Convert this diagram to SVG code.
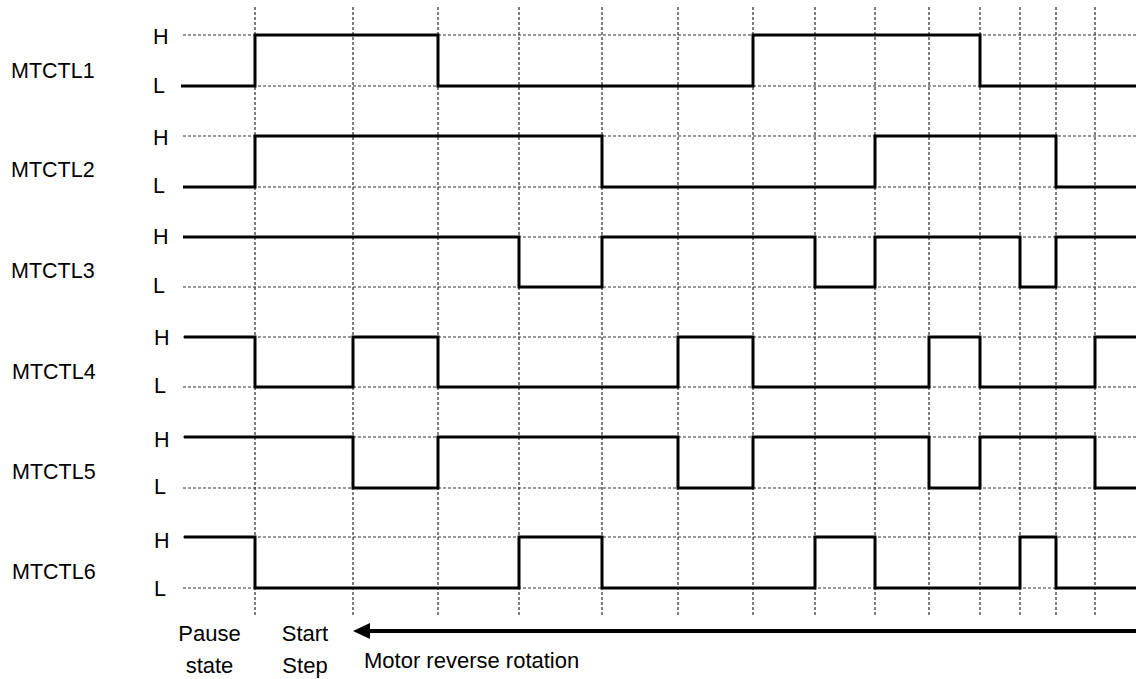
<svg xmlns="http://www.w3.org/2000/svg" width="1136" height="679" viewBox="0 0 1136 679">
<style>
.bg{fill:#fff}
.g{stroke:#000;stroke-width:1;stroke-dasharray:3 2;fill:none}
.gh{stroke:#333;stroke-width:1;stroke-dasharray:3 2;fill:none}
.sig{stroke:#000;stroke-width:3;fill:none;stroke-linejoin:miter;stroke-linecap:butt}
.lbl{font-family:"Liberation Sans",Arial,sans-serif;font-size:21.5px;fill:#000}
.bt{font-family:"Liberation Sans",Arial,sans-serif;font-size:22px;fill:#000}
.arr{stroke:#000;stroke-width:4;fill:none}
</style>
<defs>
<marker id="ah" markerUnits="userSpaceOnUse" markerWidth="17" markerHeight="16" refX="17" refY="8" orient="auto">
<path d="M17,0 L0,8 L17,16 Z" fill="#000"/>
</marker>
</defs>
<rect class="bg" x="0" y="0" width="1136" height="679"/>
<g id="grid">
<path class="g" d="M255,7V615M353,7V615M438,7V615M519,7V615M602,7V615M678,7V615M753,7V615M815,7V615M875,7V615M929,7V615M980,7V615M1020,7V615M1056,7V615M1095,7V615"/>
<path class="gh" d="M183,35H1136M183,86H1136M183,136H1136M183,187H1136M183,237H1136M183,287H1136M183,337H1136M183,387H1136M183,437H1136M183,488H1136M183,537H1136M183,588H1136"/>
</g>
<g id="MTCTL1">
<text class="lbl" x="11" y="78">MTCTL1</text>
<text class="lbl" x="153" y="44">H</text>
<text class="lbl" x="153" y="93">L</text>
<path class="sig" d="M181,86H255V35H438V86H753V35H980V86H1136"/>
</g>
<g id="MTCTL2">
<text class="lbl" x="11" y="177">MTCTL2</text>
<text class="lbl" x="153" y="145">H</text>
<text class="lbl" x="153" y="193">L</text>
<path class="sig" d="M183,187H255V136H602V187H875V136H1056V187H1136"/>
</g>
<g id="MTCTL3">
<text class="lbl" x="11" y="278">MTCTL3</text>
<text class="lbl" x="153" y="244">H</text>
<text class="lbl" x="153" y="293">L</text>
<path class="sig" d="M183,237H519V287H602V237H815V287H875V237H1020V287H1056V237H1136"/>
</g>
<g id="MTCTL4">
<text class="lbl" x="12" y="379">MTCTL4</text>
<text class="lbl" x="154" y="345">H</text>
<text class="lbl" x="154" y="393">L</text>
<path class="sig" d="M184,337H255V387H353V337H438V387H678V337H753V387H929V337H980V387H1095V337H1136"/>
</g>
<g id="MTCTL5">
<text class="lbl" x="12" y="479">MTCTL5</text>
<text class="lbl" x="154" y="447">H</text>
<text class="lbl" x="154" y="494">L</text>
<path class="sig" d="M184,437H353V488H438V437H678V488H753V437H929V488H980V437H1095V488H1136"/>
</g>
<g id="MTCTL6">
<text class="lbl" x="12" y="579">MTCTL6</text>
<text class="lbl" x="154" y="548">H</text>
<text class="lbl" x="154" y="596">L</text>
<path class="sig" d="M184,537H255V588H519V537H602V588H815V537H875V588H1020V537H1056V588H1136"/>
</g>
<g id="pause">
<text class="bt" x="209.5" y="641" text-anchor="middle">Pause</text>
<text class="bt" x="209.5" y="673" text-anchor="middle">state</text>
</g>
<g id="start">
<text class="bt" x="305" y="641" text-anchor="middle">Start</text>
<text class="bt" x="305" y="673" text-anchor="middle">Step</text>
</g>
<g id="connectors">
<path class="arr" d="M370,631H1136" marker-start="url(#ah)"/>
</g>
<g id="rotation">
<text class="bt" x="364" y="668">Motor reverse rotation</text>
</g>
</svg>
